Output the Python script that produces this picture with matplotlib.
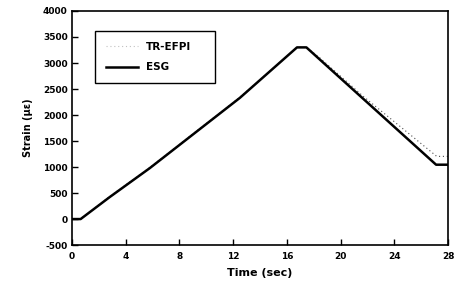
import numpy as np
import matplotlib.pyplot as plt

# ESG (solid) and TR-EFPI (dotted) strain vs time
esg_t = [0, 0.65, 2.8, 5.8, 12.5, 16.75, 17.45, 27.1, 28]
esg_s = [0, 0, 420, 980, 2330, 3300, 3300, 1045, 1045]

efpi_t = [0, 0.65, 2.8, 5.8, 12.5, 16.75, 17.45, 18.4, 21.7, 27.15, 28]
efpi_s = [0, 0, 430, 990, 2340, 3300, 3300, 3110, 2355, 1205, 1205]

xticks = [0, 4, 8, 12, 16, 20, 24, 28]
yticks = [-500, 0, 500, 1000, 1500, 2000, 2500, 3000, 3500, 4000]

plt.rcParams['font.family'] = ['DejaVu Sans']
plt.rcParams['font.weight'] = 'bold'
plt.rcParams['axes.unicode_minus'] = False

fig = plt.figure(figsize=(4.55, 2.89), dpi=100)
ax = fig.add_axes([0.158, 0.152, 0.827, 0.81])

ax.plot(efpi_t, efpi_s, color='0.3', lw=0.8, ls=(0, (1, 2.5)), label='TR-EFPI')
ax.plot(esg_t, esg_s, color='black', lw=1.8, label='ESG')

ax.set_xlim(0, 28)
ax.set_ylim(-500, 4000)
ax.set_xticks(xticks)
ax.set_yticks(yticks)
ax.tick_params(direction='in', length=4, width=1, labelsize=6.5, pad=3)
ax.tick_params(axis='x', pad=5)
for s in ax.spines.values():
    s.set_linewidth(1.2)
for lab in ax.get_xticklabels() + ax.get_yticklabels():
    lab.set_fontweight('bold')

ax.set_xlabel('Time (sec)', fontsize=8, fontweight='bold', labelpad=5)
ax.set_ylabel('Strain (\u03bc\u03b5)', fontsize=7, fontweight='bold', labelpad=7)

# legend box spans roughly x 95..215 px, top at 31 px
leg = ax.legend(loc='upper left', bbox_to_anchor=(0.061, 0.915, 0.32, 0.0),
                mode='expand', fontsize=7.5,
                fancybox=False, framealpha=1, edgecolor='black',
                handlelength=3.1, borderpad=1.05, labelspacing=1.0,
                handletextpad=0.75, borderaxespad=0)
leg.get_frame().set_linewidth(1.0)
leg.legend_handles[0].set_alpha(0.35)
for t in leg.get_texts():
    t.set_fontweight('bold')

fig.savefig('out.png', dpi=100)
